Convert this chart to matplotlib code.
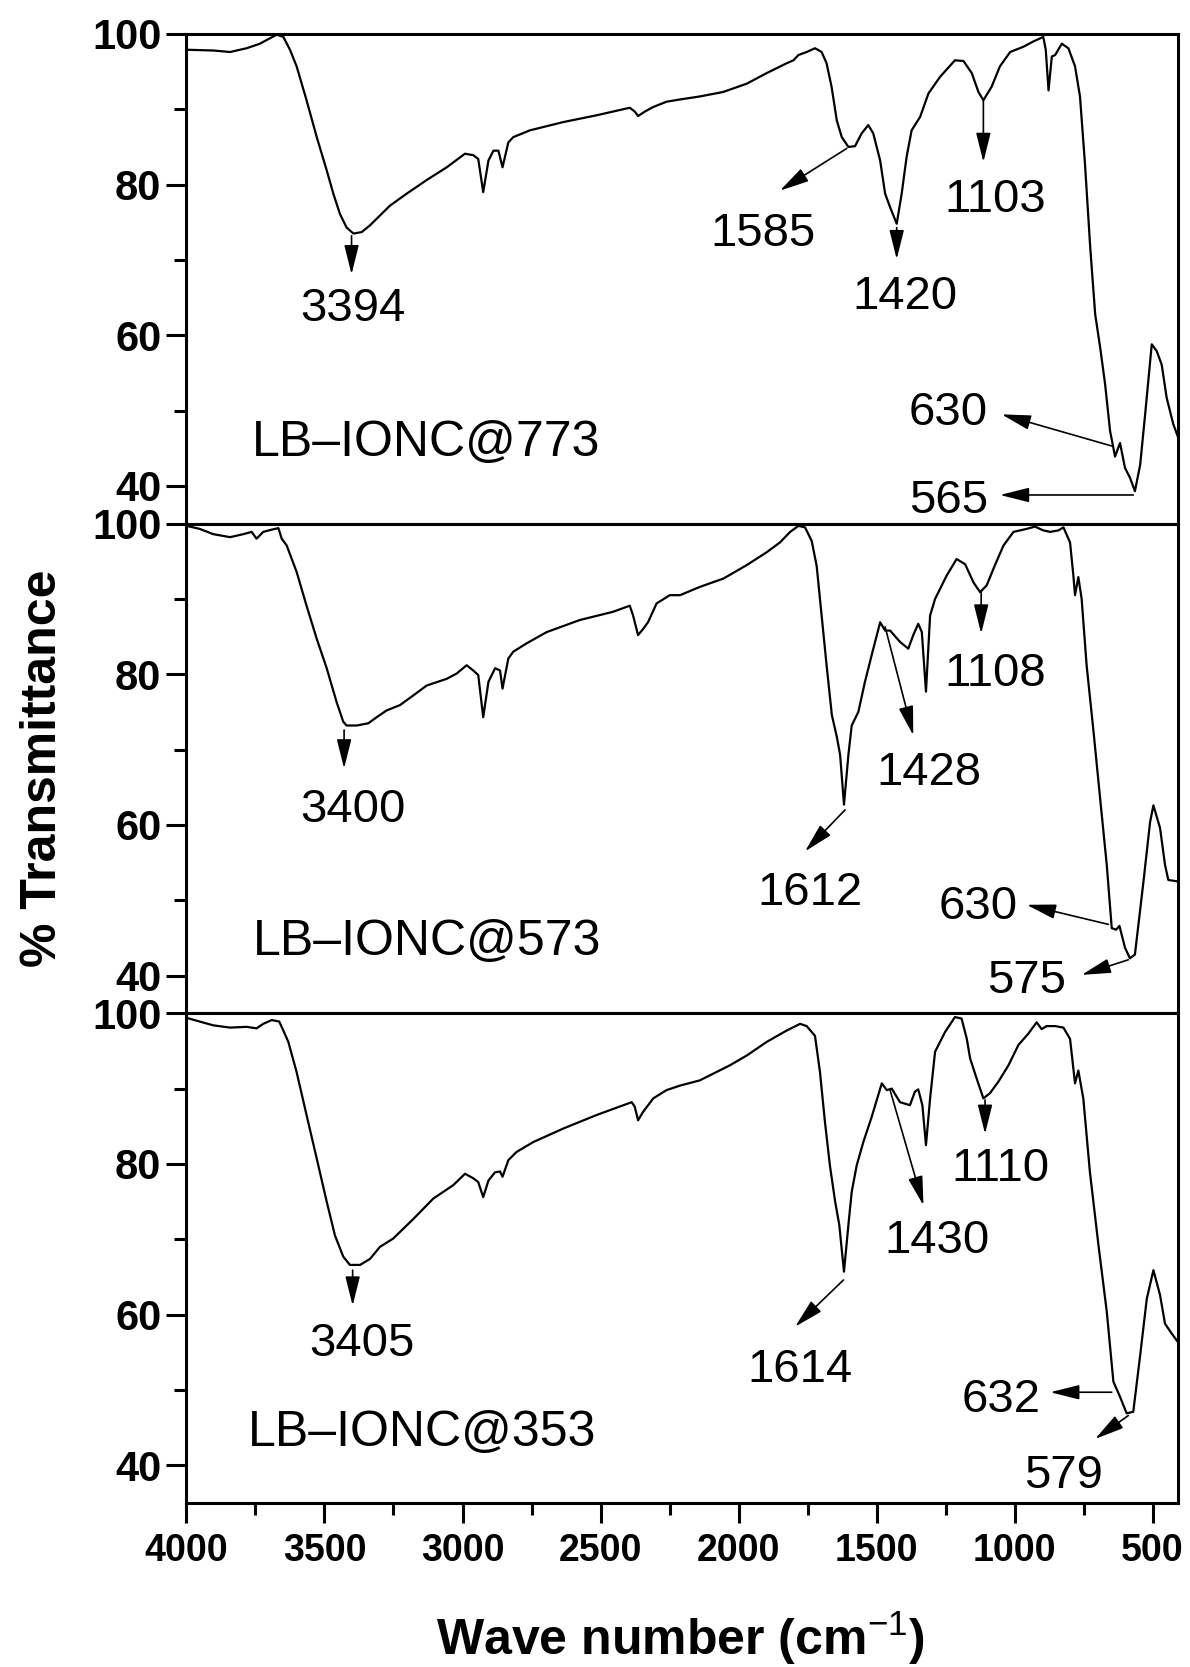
import matplotlib
matplotlib.use("Agg")
import matplotlib.pyplot as plt
from matplotlib.ticker import MultipleLocator

plt.rcParams['font.family'] = ['Liberation Sans', 'DejaVu Sans']
plt.rcParams['mathtext.fontset'] = 'custom'
plt.rcParams['mathtext.rm'] = 'Liberation Sans'
plt.rcParams['mathtext.bf'] = 'Liberation Sans:bold'

#######################################################################
# Data (wave number, % transmittance)

wn_773 = [4000, 3903, 3842, 3782, 3734, 3709, 3673, 3649, 3625, 3601, 3565, 3528, 3492, 3468, 3444, 3420,
          3395, 3365, 3335, 3299, 3263, 3202, 3130, 3057, 2991, 2961, 2943, 2925, 2906, 2888, 2870, 2855,
          2834, 2816, 2756, 2635, 2514, 2394, 2376, 2364, 2339, 2309, 2261, 2212, 2140, 2055, 1970, 1898,
          1826, 1801, 1783, 1753, 1723, 1699, 1681, 1663, 1644, 1626, 1602, 1578, 1554, 1530, 1512, 1487,
          1469, 1451, 1427, 1409, 1391, 1373, 1342, 1312, 1270, 1216, 1185, 1155, 1131, 1113, 1083, 1053,
          1016, 968, 932, 896, 887, 877, 865, 853, 829, 805, 781, 763, 745, 726, 708, 690, 672, 654, 636,
          618, 600, 582, 564, 545, 527, 503, 485, 467, 449, 425, 409]
T_773 = [97.9, 97.8, 97.6, 98.1, 98.7, 99.2, 99.9, 99.6, 97.9, 95.7, 91.2, 86.3, 81.9, 78.8, 76.1, 74.3,
         73.5, 73.7, 74.6, 75.9, 77.2, 78.8, 80.6, 82.3, 84.1, 83.9, 83.4, 79.0, 83.2, 84.5, 84.5, 82.3,
         85.6, 86.3, 87.2, 88.3, 89.2, 90.2, 89.7, 89.1, 89.7, 90.3, 91.0, 91.3, 91.7, 92.3, 93.4, 94.8,
         96.1, 96.5, 97.2, 97.6, 98.1, 97.6, 96.1, 93.0, 88.5, 86.3, 85.0, 85.1, 86.8, 87.9, 86.8, 83.2,
         78.8, 77.0, 74.8, 78.8, 83.7, 87.2, 89.0, 92.1, 94.3, 96.5, 96.4, 94.8, 92.3, 91.2, 93.0, 95.7,
         97.6, 98.3, 99.0, 99.6, 97.9, 92.5, 97.0, 97.2, 98.7, 98.1, 95.7, 91.7, 82.8, 71.7, 62.8, 58.4,
         53.5, 47.3, 43.9, 45.7, 42.4, 41.1, 39.3, 42.8, 49.5, 58.8, 57.9, 56.1, 51.7, 48.2, 46.6]

wn_573 = [4000, 3952, 3903, 3842, 3794, 3764, 3746, 3722, 3691, 3667, 3655, 3637, 3601, 3565, 3528, 3492,
          3456, 3432, 3420, 3383, 3341, 3311, 3275, 3227, 3178, 3130, 3057, 3021, 2985, 2961, 2943, 2925,
          2906, 2882, 2864, 2855, 2834, 2816, 2768, 2695, 2575, 2454, 2394, 2382, 2364, 2346, 2328, 2297,
          2249, 2212, 2140, 2055, 1970, 1898, 1850, 1813, 1783, 1759, 1735, 1717, 1699, 1681, 1662, 1644,
          1632, 1618, 1602, 1590, 1566, 1542, 1518, 1487, 1469, 1451, 1415, 1385, 1367, 1349, 1336, 1321,
          1306, 1288, 1246, 1210, 1179, 1149, 1125, 1101, 1071, 1040, 1004, 956, 926, 896, 871, 841, 823,
          799, 787, 781, 769, 757, 739, 714, 690, 666, 648, 632, 620, 600, 582, 564, 533, 509, 497, 473,
          455, 443, 409]
T_573 = [99.7, 99.3, 98.6, 98.2, 98.6, 98.9, 98.0, 98.9, 99.2, 99.4, 98.0, 97.1, 93.6, 89.1, 84.7, 80.8,
         76.3, 73.7, 73.2, 73.2, 73.5, 74.3, 75.2, 75.9, 77.2, 78.5, 79.4, 80.1, 81.2, 80.5, 79.9, 74.3,
         79.0, 80.8, 80.5, 78.1, 82.1, 83.0, 84.1, 85.6, 87.2, 88.3, 89.1, 87.8, 85.2, 86.0, 86.9, 89.4,
         90.5, 90.5, 91.6, 92.7, 94.5, 96.2, 97.5, 98.9, 99.7, 99.5, 97.7, 94.4, 87.8, 81.2, 74.6, 71.7,
         69.3, 62.7, 69.3, 73.2, 75.0, 79.0, 82.5, 86.9, 85.8, 85.8, 84.3, 83.4, 85.2, 86.7, 85.6, 77.7,
         87.8, 90.0, 93.1, 95.3, 94.6, 92.2, 90.9, 91.8, 94.5, 97.1, 98.9, 99.3, 99.6, 99.1, 98.9, 99.1,
         99.5, 97.5, 93.1, 90.5, 92.9, 90.0, 81.2, 72.4, 63.5, 54.7, 46.3, 46.1, 46.6, 43.7, 42.3, 42.8,
         52.5, 60.4, 62.6, 59.6, 54.7, 52.7, 52.5]

wn_353 = [4000, 3952, 3903, 3842, 3782, 3746, 3722, 3691, 3664, 3649, 3631, 3601, 3565, 3528, 3492, 3462,
          3432, 3408, 3371, 3335, 3299, 3251, 3178, 3106, 3033, 2991, 2961, 2943, 2925, 2906, 2882, 2864,
          2855, 2834, 2804, 2744, 2635, 2514, 2387, 2376, 2364, 2346, 2309, 2261, 2212, 2140, 2031, 1970,
          1898, 1826, 1777, 1753, 1723, 1705, 1687, 1669, 1650, 1635, 1618, 1602, 1590, 1572, 1548, 1518,
          1481, 1463, 1445, 1415, 1379, 1361, 1349, 1334, 1321, 1306, 1288, 1252, 1216, 1192, 1173, 1161,
          1137, 1113, 1089, 1059, 1022, 986, 950, 920, 902, 884, 853, 823, 799, 781, 769, 751, 727, 696,
          666, 642, 618, 594, 570, 545, 521, 497, 473, 455, 431, 409]
T_353 = [99.4, 98.9, 98.4, 98.1, 98.2, 98.0, 98.6, 99.1, 98.9, 97.7, 96.2, 92.2, 86.5, 80.7, 75.0, 70.5,
         67.7, 66.6, 66.6, 67.4, 69.0, 70.1, 72.7, 75.4, 77.2, 78.7, 78.1, 77.6, 75.6, 77.8, 78.9, 79.0,
         78.3, 80.5, 81.6, 82.9, 84.7, 86.5, 88.2, 87.6, 85.8, 86.9, 88.7, 89.8, 90.4, 91.1, 93.1, 94.4,
         96.2, 97.7, 98.6, 98.3, 97.0, 92.2, 85.6, 79.8, 75.0, 71.9, 65.7, 71.9, 76.3, 79.8, 82.9, 86.2,
         90.7, 89.8, 90.0, 88.2, 87.8, 89.6, 89.9, 87.8, 82.5, 88.7, 94.9, 97.5, 99.5, 99.3, 96.6, 94.0,
         91.3, 88.7, 89.4, 90.9, 93.1, 95.8, 97.3, 98.8, 97.9, 98.3, 98.3, 98.1, 96.6, 90.7, 92.4, 88.7,
         78.9, 69.2, 60.4, 51.1, 49.1, 46.9, 47.1, 54.6, 62.1, 65.9, 62.6, 58.8, 57.5, 56.4]

samples = ['LB\u2013IONC@773', 'LB\u2013IONC@573', 'LB\u2013IONC@353']
peak_labels_773 = ['3394', '1585', '1420', '1103', '630', '565']
peak_labels_573 = ['3400', '1612', '1428', '1108', '630', '575']
peak_labels_353 = ['3405', '1614', '1430', '1110', '632', '579']

#######################################################################
# Annotation layout: (arrow tail on curve, arrow head, label centre) in data coords

arrows_773 = [((3402, 73.2), (3402, 68.1), (3399, 64.1)),
              ((1608, 84.8), (1850, 79.2), (1910, 74.1)),
              ((1427, 74.3), (1427, 70.1), (1397, 65.7)),
              ((1113, 91.2), (1113, 83.0), (1071, 78.6)),
              ((648, 45.3), (1047, 49.5), (1240, 50.4)),
              ((570, 38.8), (1053, 38.8), (1240, 38.6))]
arrows_573 = [((3429, 72.6), (3429, 67.5), (3398, 62.6)),
              ((1614, 62.0), (1759, 56.5), (1741, 51.6)),
              ((1469, 86.3), (1367, 71.9), (1312, 67.5)),
              ((1121, 90.9), (1121, 85.4), (1071, 80.7)),
              ((660, 46.8), (956, 49.4), (1131, 49.8)),
              ((588, 42.1), (757, 40.1), (956, 39.9))]
arrows_353 = [((3398, 65.9), (3398, 61.2), (3365, 56.8)),
              ((1620, 64.6), (1795, 58.4), (1777, 53.3)),
              ((1451, 89.8), (1330, 74.5), (1282, 70.5)),
              ((1107, 88.5), (1107, 84.0), (1053, 80.0)),
              ((648, 49.7), (871, 49.7), (1047, 49.3)),
              ((588, 46.6), (708, 43.5), (823, 39.3))]
sample_pos = [(3763, 44.0), (3759, 42.8), (3777, 42.6)]

#######################################################################
# Figure

fig = plt.figure(figsize=(11.9, 16.67), dpi=100)

left = 0.1567
width = 0.8332
height = 0.29375
bottom = 0.0984

spectra = [(wn_773, T_773, peak_labels_773, arrows_773),
           (wn_573, T_573, peak_labels_573, arrows_573),
           (wn_353, T_353, peak_labels_353, arrows_353)]

for i, (wn, T, labels, arrows) in enumerate(spectra):
    ax = fig.add_axes([left, bottom + (2 - i) * height, width, height])
    ax.plot(wn, T, color='k', lw=1.6)

    ax.set_xlim(4000, 408)
    ax.set_ylim(35, 100)
    ax.yaxis.set_major_locator(MultipleLocator(20))
    ax.yaxis.set_minor_locator(MultipleLocator(10))
    ax.xaxis.set_major_locator(MultipleLocator(500))
    ax.xaxis.set_minor_locator(MultipleLocator(250))

    for s in ax.spines.values():
        s.set_linewidth(2.2)
    ax.tick_params(axis='both', which='major', direction='out', length=14.5, width=2.2)
    ax.tick_params(axis='both', which='minor', direction='out', length=8.5, width=2.2)
    ax.tick_params(axis='y', which='major', pad=3.5, labelsize=30)
    ax.tick_params(axis='x', which='major', pad=7, labelsize=27)
    for lab in ax.get_xticklabels() + ax.get_yticklabels():
        lab.set_fontweight('bold')

    if i < 2:
        ax.tick_params(axis='x', which='both', bottom=False, labelbottom=False)

    for lab, (tail, head, txt) in zip(labels, arrows):
        ax.annotate('', xy=head, xytext=tail,
                    arrowprops=dict(arrowstyle='-|>,head_length=0.6,head_width=0.15',
                                    mutation_scale=30, lw=1.2, color='k', fc='k',
                                    shrinkA=0, shrinkB=0))
        ax.text(txt[0], txt[1], lab, ha='center', va='center_baseline', fontsize=34)

    ax.text(sample_pos[i][0], sample_pos[i][1], samples[i], ha='left', va='baseline', fontsize=36)

fig.text(0.036, 0.539, '% Transmittance', rotation=90, ha='center', va='center',
         fontsize=36, fontweight='bold')
fig.text(0.5714, 0.0072, r'Wave number (cm$^{\mathrm{-1}}$)', ha='center', va='baseline',
         fontsize=36, fontweight='bold')

plt.savefig('out.png', dpi=100)
plt.close(fig)
